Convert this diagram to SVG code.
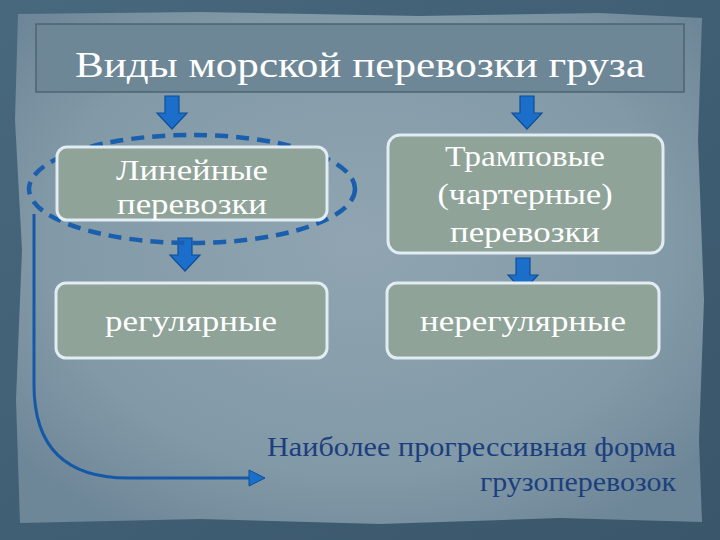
<svg xmlns="http://www.w3.org/2000/svg" width="720" height="540" viewBox="0 0 720 540">
  <defs>
    <radialGradient id="paper" cx="50%" cy="45%" r="65%">
      <stop offset="0" stop-color="#90a5b1"/>
      <stop offset="0.7" stop-color="#8299a7"/>
      <stop offset="1" stop-color="#6e8798"/>
    </radialGradient>
    <linearGradient id="bg" x1="0" y1="0" x2="1" y2="1">
      <stop offset="0" stop-color="#48687e"/>
      <stop offset="1" stop-color="#39566a"/>
    </linearGradient>
    <marker id="tri" markerWidth="18" markerHeight="18" refX="14" refY="9" orient="auto" markerUnits="userSpaceOnUse">
      <path d="M1,1 L17,9 L1,17 Z" fill="#1a6fcb" stroke="#0e4e96" stroke-width="1"/>
    </marker>
    <path id="blockArrow" d="M-7,0 H7 V17 H15 L0,33 L-15,17 H-7 Z"/>
    <style>
      .node rect { fill: #8fa399; stroke: #e2ecf4; stroke-width: 3; }
      .lbl { fill: #ffffff; font-size: 30px; text-anchor: middle; }
      .barrow { fill: #1b6fcb; stroke: #0e4f98; stroke-width: 1.2; }
      .note { fill: #1b3f7e; font-size: 28px; text-anchor: end; }
    </style>
  </defs>

  <!-- background -->
  <rect x="0" y="0" width="720" height="540" fill="url(#bg)"/>
  <path d="M18,14 L200,12 L420,16 L600,13 L702,18 L698,140 L704,300 L699,440 L702,522 L560,518 L380,524 L200,519 L20,523 L16,400 L22,250 L15,120 Z" fill="url(#paper)"/>

  <!-- title -->
  <g id="title">
    <rect x="36" y="24" width="648" height="68" fill="#6e8796" stroke="#4c6473" stroke-width="1.5"/>
    <text x="360" y="77" font-family="Liberation Serif, DejaVu Serif, serif" font-size="35" fill="#ffffff" text-anchor="middle" textLength="570" lengthAdjust="spacingAndGlyphs">Виды морской перевозки груза</text>
  </g>

  <!-- connectors -->
  <g id="connectors">
    <use href="#blockArrow" x="172" y="96" class="barrow"/>
    <use href="#blockArrow" x="527" y="96" class="barrow"/>
    <use href="#blockArrow" x="185" y="238" class="barrow"/>
    <use href="#blockArrow" x="523" y="258" class="barrow"/>
    <ellipse cx="192" cy="189" rx="163" ry="54" fill="none" stroke="#1a5fae" stroke-width="4.5" stroke-dasharray="13,8"/>
    <path d="M34,214 V385 Q34,478 128,478 H262" fill="none" stroke="#1658a8" stroke-width="3" marker-end="url(#tri)"/>
  </g>

  <!-- nodes -->
  <g id="linear" class="node" font-family="Liberation Serif, DejaVu Serif, serif">
    <rect x="57" y="147" width="270" height="73" rx="10"/>
    <text class="lbl" x="192" y="180" textLength="152" lengthAdjust="spacingAndGlyphs">Линейные</text>
    <text class="lbl" x="192" y="214" textLength="150" lengthAdjust="spacingAndGlyphs">перевозки</text>
  </g>
  <g id="tramp" class="node" font-family="Liberation Serif, DejaVu Serif, serif">
    <rect x="388" y="135" width="275" height="118" rx="12"/>
    <text class="lbl" x="525" y="166" textLength="160" lengthAdjust="spacingAndGlyphs">Трамповые</text>
    <text class="lbl" x="525" y="204" textLength="175" lengthAdjust="spacingAndGlyphs">(чартерные)</text>
    <text class="lbl" x="525" y="242" textLength="150" lengthAdjust="spacingAndGlyphs">перевозки</text>
  </g>
  <g id="regular" class="node" font-family="Liberation Serif, DejaVu Serif, serif">
    <rect x="56" y="283" width="271" height="75" rx="10"/>
    <text class="lbl" x="191" y="331" textLength="172" lengthAdjust="spacingAndGlyphs">регулярные</text>
  </g>
  <g id="irregular" class="node" font-family="Liberation Serif, DejaVu Serif, serif">
    <rect x="387" y="283" width="272" height="75" rx="10"/>
    <text class="lbl" x="523" y="331" textLength="206" lengthAdjust="spacingAndGlyphs">нерегулярные</text>
  </g>

  <!-- note -->
  <g id="note" font-family="Liberation Serif, DejaVu Serif, serif">
    <text class="note" x="676" y="456" textLength="409" lengthAdjust="spacingAndGlyphs">Наиболее прогрессивная форма</text>
    <text class="note" x="676" y="491" textLength="196" lengthAdjust="spacingAndGlyphs">грузоперевозок</text>
  </g>
</svg>
